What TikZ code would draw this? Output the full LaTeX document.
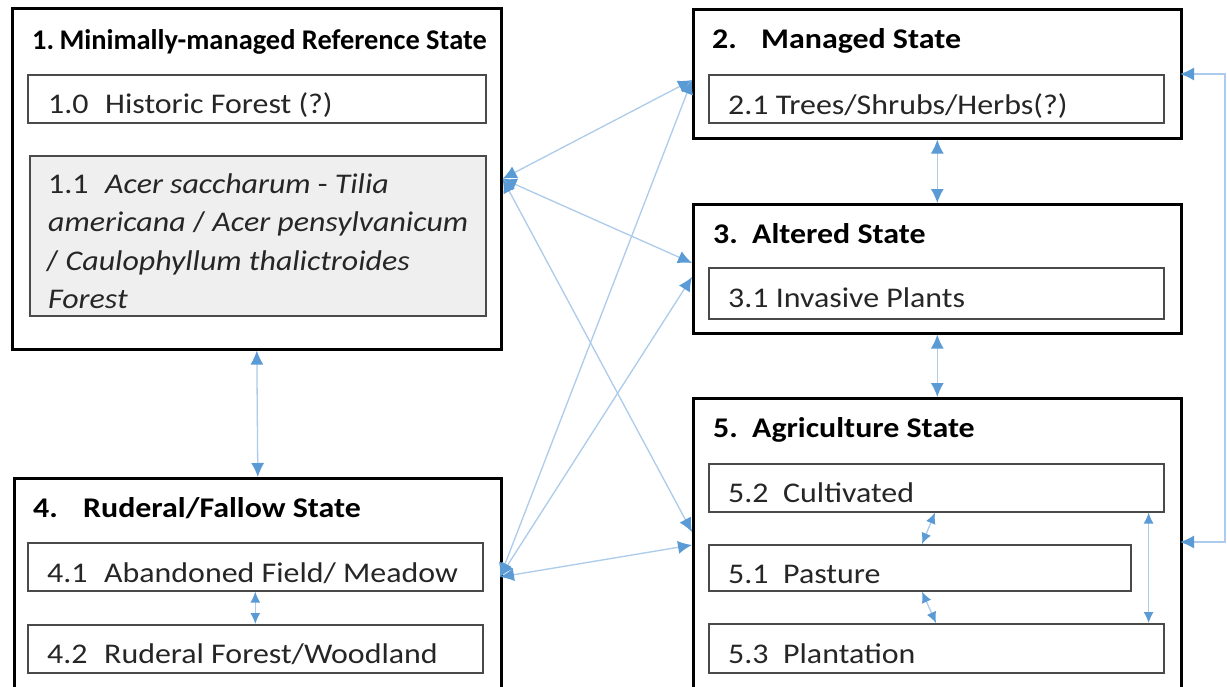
\documentclass[tikz,border=0pt]{standalone}
\usepackage{fontspec}
\usepackage{graphicx}
\usetikzlibrary{arrows.meta}
\newfontfamily\cf[FakeStretch=1.12]{Carlito}
\definecolor{lineblue}{HTML}{ADCBEA}
\definecolor{headblue}{HTML}{5B9BD5}
\definecolor{txtgrey}{HTML}{262626}
\definecolor{boxgrey}{HTML}{4A4A4A}
\definecolor{fillgrey}{HTML}{EFEFEF}
\begin{document}
\begin{tikzpicture}[x=1pt,y=-1pt,
  outerbox/.style={draw=black,line width=2.6pt,inner sep=0pt,anchor=north west},
  innerbox/.style={draw=boxgrey,line width=1.6pt,inner sep=0pt,anchor=north west},
  ttl/.style={font=\cf\bfseries\fontsize{28.5}{34}\selectfont,text=black,inner sep=0pt,anchor=base west},
  lbl/.style={font=\cf\fontsize{28.5}{34}\selectfont,text=txtgrey,inner sep=0pt,anchor=base west},
  conn/.style={draw=lineblue,line width=1.3pt,{Latex[length=14pt,width=13pt,color=headblue]}-{Latex[length=14pt,width=13pt,color=headblue]}},
  sconn/.style={draw=lineblue,line width=1.3pt,{Latex[length=11pt,width=10pt,color=headblue]}-{Latex[length=11pt,width=10pt,color=headblue]}}
]
\clip (0,0) rectangle (1227,686);
\fill[white] (0,0) rectangle (1227,686);

% state 1
\node[outerbox,minimum width=489pt,minimum height=341pt] (b1) at (11,7) {};
\node[innerbox,minimum width=458pt,minimum height=48pt] (b10) at (27,74) {};
\node[innerbox,fill=fillgrey,minimum width=456pt,minimum height=160pt] (b11) at (29,155) {};
\node[ttl] (t1) at (32,49) {\scalebox{0.89}[1]{1.\hspace{6pt}Minimally-managed Reference State}};
\node[lbl] (t10) at (48,113) {\makebox[57pt][l]{1.0}Historic Forest (?)};
\node[lbl] (t11a) at (48,193) {\makebox[57pt][l]{1.1}\textit{Acer saccharum} - \textit{Tilia}};
\node[lbl] (t11b) at (48,231.5) {\textit{americana} / \textit{Acer pensylvanicum}};
\node[lbl] (t11c) at (46,270) {/ \textit{Caulophyllum thalictroides}};
\node[lbl] (t11d) at (48,308) {\textit{Forest}};

% state 4
\node[outerbox,minimum width=487pt,minimum height=240pt] (b4) at (13,477) {};
\node[innerbox,minimum width=455pt,minimum height=48pt] (b41) at (27,542) {};
\node[innerbox,minimum width=455pt,minimum height=48pt] (b42) at (27,624) {};
\node[ttl] (t4) at (33,517) {\makebox[50pt][l]{4.}Ruderal/Fallow State};
\node[lbl] (t41) at (47,582) {\makebox[57pt][l]{4.1}Abandoned Field/ Meadow};
\node[lbl] (t42) at (47,663) {\makebox[57pt][l]{4.2}Ruderal Forest/Woodland};

% state 2
\node[outerbox,minimum width=488pt,minimum height=129pt] (b2) at (692,8) {};
\node[innerbox,minimum width=455pt,minimum height=48pt] (b21) at (708,74) {};
\node[ttl] (t2) at (712,48) {\makebox[49pt][l]{2.}Managed State};
\node[lbl] (t21) at (728,114) {2.1 Trees/Shrubs/Herbs(?)};

% state 3
\node[outerbox,minimum width=488pt,minimum height=129pt] (b3) at (692,203) {};
\node[innerbox,minimum width=455pt,minimum height=51pt] (b31) at (708,267) {};
\node[ttl] (t3) at (713,243) {\makebox[39pt][l]{3.}Altered State};
\node[lbl] (t31) at (728,307) {3.1 Invasive Plants};

% state 5
\node[outerbox,minimum width=488pt,minimum height=320pt] (b5) at (692,397) {};
\node[innerbox,minimum width=455pt,minimum height=48pt] (b52) at (708,463) {};
\node[innerbox,minimum width=422pt,minimum height=46pt] (b51) at (708,544) {};
\node[innerbox,minimum width=455pt,minimum height=49pt] (b53) at (708,623) {};
\node[ttl] (t5) at (713,437) {\makebox[39pt][l]{5.}Agriculture State};
\node[lbl] (t52) at (728,502) {\makebox[55pt][l]{5.2}Cultivated};
\node[lbl] (t51) at (728,583) {\makebox[55pt][l]{5.1}Pasture};
\node[lbl] (t53) at (728,663) {\makebox[55pt][l]{5.3}Plantation};

% connection points
\coordinate (j4) at (500,577);
\coordinate (a2) at (692,80);
\coordinate (a3u) at (692,263);
\coordinate (a3l) at (692,277);
\coordinate (a5u) at (692,532);
\coordinate (a5l) at (692,545);
\coordinate (r2) at (1180,74);
\coordinate (r5) at (1180,542);
\coordinate (c2) at (1225,74);
\coordinate (c5) at (1225,542);

% connectors
\draw[conn] (b1.south) -- (b4.north);
\draw[conn] (b2.south) -- (b3.north);
\draw[conn] (b3.south) -- (b5.north);
\draw[sconn] (b41.south) -- (b42.north);
\draw[conn] (b1.east) -- (a2);
\draw[conn] (b1.east) -- (a3u);
\draw[conn] (b1.east) -- (a5u);
\draw[conn] (j4) -- (a2);
\draw[conn] (j4) -- (a3l);
\draw[conn] (j4) -- (a5l);
\draw[conn] (r5) -- (c5) -- (c2) -- (r2);
\draw[sconn] ([xshift=-16pt]b52.south east) -- ([xshift=-16pt]b53.north east);
\draw[sconn] ([xshift=227pt]b52.south west) -- ([xshift=214pt]b51.north west);
\draw[sconn] ([xshift=214pt]b51.south west) -- ([xshift=228pt]b53.north west);
\end{tikzpicture}
\end{document}
